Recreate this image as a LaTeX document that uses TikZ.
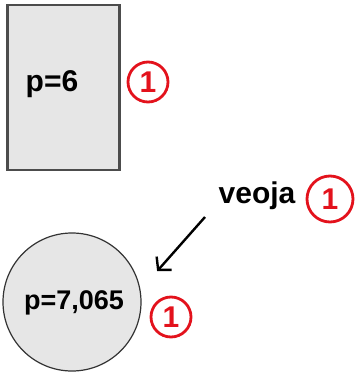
\documentclass[tikz,border=0pt]{standalone}
\usepackage{fontspec}
\setmainfont{Liberation Sans}
\usetikzlibrary{arrows.meta,positioning}
\definecolor{markred}{HTML}{E3121C}
\definecolor{shade}{HTML}{E6E6E6}

\begin{document}
\begin{tikzpicture}[
  x=1pt,y=-1pt,
  hand/.style={font=\fontsize{30}{30}\selectfont\bfseries,inner sep=0pt},
  score/.style={circle,draw=markred,line width=2.8pt,text=markred,minimum size=40pt,inner sep=0pt,font=\fontsize{30}{30}\selectfont\bfseries},
  arrow/.style={-{Straight Barb[length=9pt,width=20pt]},line width=2.4pt}
]
\useasboundingbox (0,0) rectangle (357,376);
\node[draw=black!70,fill=shade,line width=2.4pt,minimum width=112pt,minimum height=165pt] (rect) at (63.5,87.5) {};
\node[hand] (prect) at (52,84) {p=6};
\node[score] (score1) at (148,82) {1};
\node[circle,draw=black!80,fill=shade,line width=1.2pt,minimum size=138pt] (disc) at (72,302) {};
\node[hand,font=\fontsize{27}{27}\selectfont\bfseries] (pdisc) at (74,303) {p=7,065};
\node[score] (score3) at (171,317) {1};
\node[hand] (veoja) at (257,196) {veoja};
\node[score,minimum size=46pt] (score2) at (330,199) {1};
\coordinate (tail) at (205,217);
\draw[arrow,shorten >=25pt] (tail) -- (disc.10);
\end{tikzpicture}
\end{document}
